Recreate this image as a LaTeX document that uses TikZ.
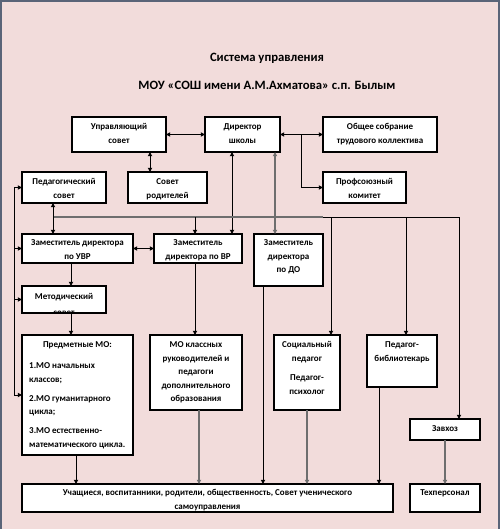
\documentclass[tikz,border=0pt]{standalone}
\usepackage{fontspec}
\setmainfont{Carlito}
\usetikzlibrary{arrows.meta}
\definecolor{bgpink}{RGB}{242,220,219}
\definecolor{lgray}{RGB}{110,110,110}
\definecolor{frameg}{RGB}{90,100,120}
\tikzset{
  box/.style={draw=black, line width=1.1pt, fill=white, inner sep=0pt, outer sep=0pt},
  txt/.style={inner sep=0pt, align=center, font=\bfseries\fontsize{9}{13.5}\selectfont, anchor=north},
  ltxt/.style={txt, align=left, anchor=north west},
  ttl/.style={inner sep=0pt, font=\bfseries\fontsize{12.7}{15}\selectfont},
  conn/.style={line width=1pt, draw=black},
  gconn/.style={line width=1.2pt, draw=lgray},
  >={Triangle[length=4.2pt,width=4.2pt]}
}
\newcommand\boxtext[5][txt]{\node[#1] (#2) at (#3,{#4-5.4}) {\rule{0pt}{8pt}#5};}
\newcommand\mkbox[5]{\node[box, minimum width=#4pt, minimum height=#5pt] (#1) at (#2,#3) {};}
\begin{document}
\begin{tikzpicture}[x=1pt,y=-1pt]
\useasboundingbox (0,0) rectangle (500,529);
\fill[bgpink] (0,0) rectangle (500,529);
\draw[frameg, line width=2pt] (1,529) -- (1,0.75) -- (499,0.75) -- (499,529);

% title
\node[ttl] (t1) at (267,58) {Система управления};
\node[ttl] (t2) at (267,85) {МОУ «СОШ имени  А.М.Ахматова»  с.п. Былым};

% boxes
\mkbox{us}{119}{134.5}{94}{35}
\mkbox{dir}{242.5}{134.5}{75}{35}
\mkbox{os}{380}{134.5}{114}{35}
\mkbox{ps}{64}{187.5}{84}{31}
\mkbox{sr}{167.5}{187.5}{79}{31}
\mkbox{pk}{364.5}{187.5}{83}{31}
\mkbox{zuvr}{77.5}{248.5}{111}{29}
\mkbox{zvr}{198}{248.5}{88}{29}
\mkbox{zdo}{288.5}{260}{69}{52}
\mkbox{ms}{64}{299.5}{84}{27}
\mkbox{pmo}{77.5}{395}{111}{120}
\mkbox{mok}{196}{372.5}{92}{75}
\mkbox{sp}{307}{372.5}{66}{75}
\mkbox{pb}{402}{361}{70}{52}
\mkbox{zh}{445}{429.5}{70}{21}
\mkbox{uch}{207.5}{498}{371}{28}
\mkbox{tp}{445}{498}{70}{28}

% texts
\boxtext{us-t}{119}{127}{Управляющий\\совет}
\boxtext{dir-t}{242.5}{127}{Директор\\школы}
\boxtext{os-t}{380}{127}{Общее собрание\\трудового коллектива}
\boxtext{ps-t}{64}{182}{Педагогический\\совет}
\boxtext{sr-t}{167.5}{182}{Совет\\родителей}
\boxtext{pk-t}{364.5}{182}{Профсоюзный\\комитет}
\boxtext{zuvr-t}{77.5}{243}{Заместитель директора\\по УВР}
\boxtext{zvr-t}{198}{243}{Заместитель\\директора по ВР}
\boxtext{zdo-t}{288.5}{243}{Заместитель\\директора\\по ДО}
\begin{scope}
\clip ([shift={(1,1)}]ms.north west) rectangle ([shift={(-1,-1)}]ms.south east);
\node[txt] (ms-t) at (64,{297-5.4}) {\rule{0pt}{8pt}Методический\\[2pt]совет};
\end{scope}
\boxtext{pmo-t}{77.5}{345}{Предметные МО:}
\boxtext[ltxt]{pmo-l}{29}{366}{1.МО начальных\\классов;\\[5.5pt]2.МО гуманитарного\\цикла;\\[5.5pt]3.МО естественно-\\математического  цикла.}
\boxtext{mok-t}{196}{345}{МО классных\\руководителей и\\педагоги\\дополнительного\\образования}
\boxtext{sp-t}{307}{345}{Социальный\\педагог\\[6pt]Педагог-\\психолог}
\boxtext{pb-t}{402}{345}{Педагог-\\библиотекарь}
\boxtext{zh-t}{445}{429}{Завхоз}
\boxtext{uch-t}{207.5}{493}{Учащиеся, воспитанники, родители, общественность, Совет ученического\\самоуправления}
\boxtext{tp-t}{445}{493}{Техперсонал}

% helper coordinates
\coordinate (xa) at (150,0);
\coordinate (xb) at (232,0);
\coordinate (xc) at (275,0);
\coordinate (xd) at (301,0);
\coordinate (xe) at (53,0);
\coordinate (xf) at (195,0);
\coordinate (xg) at (331,0);
\coordinate (xh) at (406,0);
\coordinate (xi) at (459,0);
\coordinate (xj) at (14,0);
\coordinate (xk) at (71,0);
\coordinate (xl) at (263,0);
\coordinate (xm) at (76,0);
\coordinate (xn) at (199,0);
\coordinate (xo) at (307,0);
\coordinate (xp) at (379,0);
\coordinate (xq) at (445,0);
\coordinate (x323) at (323,0);
\coordinate (yb) at (0,217);

% connectors
\draw[conn,<->] (us.east) -- (dir.west);
\draw[conn,<->] (dir.east) -- (os.west);
\draw[conn,->] (dir.east -| xd) -- (pk.west -| xd) -- (pk.west);
\draw[conn,<->] (us.south -| xa) -- (sr.north -| xa);
\draw[conn,<->] (dir.south -| xb) -- (zvr.north -| xb);
\draw[gconn,<->] (dir.south -| xc) -- (zdo.north -| xc);

\draw[gconn] (yb -| xe) -- (yb -| x323);
\draw[conn] (yb -| x323) -- (yb -| xi);
\draw[conn,<->] (ps.south -| xe) -- (zuvr.north -| xe);
\draw[conn,->] (yb -| xf) -- (zvr.north -| xf);
\draw[conn,->] (yb -| xg) -- (sp.north -| xg);
\draw[conn,->] (yb -| xh) -- (pb.north -| xh);
\draw[conn,->] (yb -| xi) -- (zh.north -| xi);

\draw[conn] (ps.west -| xj) -- (pmo.west -| xj);
\draw[conn,->] (ps.west -| xj) -- (ps.west);
\draw[conn,->] (zuvr.west -| xj) -- (zuvr.west);
\draw[conn,->] (ms.west -| xj) -- (ms.west);
\draw[conn,->] (pmo.west -| xj) -- (pmo.west);

\draw[conn,<->] (zuvr.east) -- (zvr.west);
\draw[conn,->] (zuvr.south -| xk) -- (ms.north -| xk);
\draw[conn,->] (ms.south -| xk) -- (pmo.north -| xk);
\draw[conn,->] (zvr.south -| xf) -- (mok.north -| xf);
\draw[conn,->] (zdo.south -| xl) -- (uch.north -| xl);
\draw[conn,->] (pmo.south -| xm) -- (uch.north -| xm);
\draw[gconn,->] (mok.south -| xn) -- (uch.north -| xn);
\draw[gconn,->] (sp.south -| xo) -- (uch.north -| xo);
\draw[conn,->] (pb.south -| xp) -- (uch.north -| xp);
\draw[gconn,->] (zh.south -| xq) -- (tp.north -| xq);
\end{tikzpicture}
\end{document}
